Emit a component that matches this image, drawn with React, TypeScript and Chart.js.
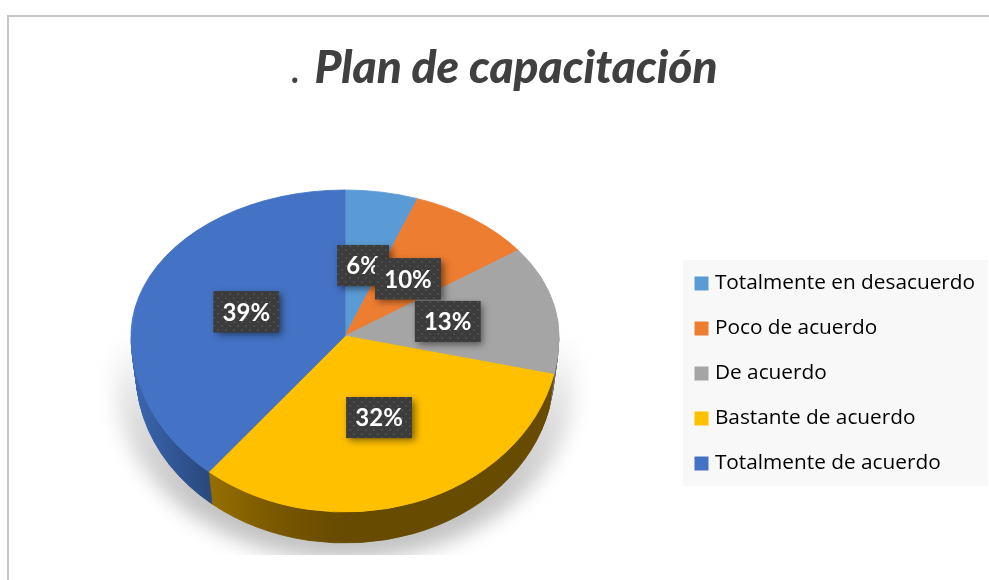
import React, { useEffect, useRef } from "react";
import { Chart, registerables } from "chart.js";

Chart.register(...registerables);

const categories = [
  "Totalmente en desacuerdo",
  "Poco de acuerdo",
  "De acuerdo",
  "Bastante de acuerdo",
  "Totalmente de acuerdo",
];
const values = [5.5, 9.5, 13.49, 32.49, 39.02];
const colors = ["#5b9bd5", "#ed7d31", "#a5a5a5", "#ffc000", "#4472c4"];
const titleText = "Plan de capacitación";

const R = 214;
const CX = 345;
const CY = 336;
const RY_TOP = 146;
const RY_BOTTOM = 176;
const DEPTH_STEPS = 31;

function drawArcs(ctx: any, arcs: any[], override?: (i: number) => any) {
  arcs.forEach((a, i) => {
    if (!override) {
      a.draw(ctx);
      return;
    }
    const saved = a.options;
    const c = override(i);
    a.options = { ...saved, backgroundColor: c, borderColor: c };
    a.draw(ctx);
    a.options = saved;
  });
}

function half(ctx: any, arcs: any[], cy: number, rx: number, ry: number, upper: boolean, override?: (i: number) => any) {
  const a = arcs[0];
  ctx.save();
  ctx.beginPath();
  if (upper) ctx.rect(0, 0, 989, cy);
  else ctx.rect(0, cy, 989, 580 - cy);
  ctx.clip();
  ctx.translate(CX, cy);
  ctx.scale(rx / R, ry / R);
  ctx.translate(-a.x, -a.y);
  drawArcs(ctx, arcs, override);
  ctx.restore();
}

const piePlugin = {
  id: "pie3d",
  beforeDraw(chart: any) {
    const ctx = chart.ctx;
    ctx.save();
    ctx.fillStyle = "#ffffff";
    ctx.fillRect(0, 0, 989, 580);
    ctx.fillStyle = "#c6c6c6";
    ctx.fillRect(7, 15, 982, 2);
    ctx.fillRect(7, 15, 2, 565);
    ctx.fillStyle = "#f8f8f8";
    ctx.fillRect(683, 260, 305, 226);
    ctx.fillStyle = "#404040";
    ctx.font = "44px 'Open Sans'";
    ctx.textBaseline = "alphabetic";
    ctx.fillText(".", 289, 83);
    ctx.restore();
  },
  afterLayout(chart: any) {
    const t = chart.titleBlock;
    t.left = 312;
    t.right = 720;
    t.top = 41;
    const l = chart.legend;
    const pad = l.options.labels.padding;
    l.left = 698.5 - pad;
    l.right = 989;
    l.top = 273 - pad;
    l.bottom = 580;
  },
  beforeDatasetDraw(chart: any) {
    const ctx = chart.ctx;
    const arcs = chart.getDatasetMeta(0).data;
    const a0 = arcs[0];

    // cast shadow on the ground
    ctx.save();
    ctx.beginPath();
    ctx.rect(0, 300, 989, 255);
    ctx.clip();
    ctx.filter = "blur(10px)";
    const sg = ctx.createLinearGradient(0, 335, 0, 500);
    sg.addColorStop(0, "rgba(215,215,215,0)");
    sg.addColorStop(0.5, "rgba(215,215,215,0.85)");
    sg.addColorStop(1, "rgba(195,195,195,1)");
    ctx.fillStyle = sg;
    ctx.beginPath();
    ctx.ellipse(CX, 380, 230, 180, 0, 0, Math.PI * 2);
    ctx.fill();
    ctx.restore();

    // side wall
    const ux = (x: number) => a0.x + (x - CX);
    const yg = ctx.createLinearGradient(ux(199), 0, ux(340), 0);
    yg.addColorStop(0, "#9a7200");
    yg.addColorStop(0.55, "#785700");
    yg.addColorStop(1, "#674b00");
    const bg = ctx.createLinearGradient(ux(136), 0, ux(204), 0);
    bg.addColorStop(0, "#3a64ad");
    bg.addColorStop(1, "#2a4a80");
    const walls: any[] = ["#3f6d98", "#9a5722", "#737373", yg, bg];
    for (let i = DEPTH_STEPS; i >= 1; i--) {
      const t = i / DEPTH_STEPS;
      half(ctx, arcs, CY + 36 * t, R - 5 * t, RY_BOTTOM - 5 * t, false, (k) => walls[k]);
    }

    // top face
    half(ctx, arcs, CY, R, RY_BOTTOM, false);
    half(ctx, arcs, CY, R, RY_TOP, true);
    return false;
  },
  afterDatasetsDraw(chart: any) {
    const ctx = chart.ctx;
    const arcs = chart.getDatasetMeta(0).data;
    const total = values.reduce((s, v) => s + v, 0);

    const tile = document.createElement("canvas");
    tile.width = 8;
    tile.height = 8;
    const tc = tile.getContext("2d") as CanvasRenderingContext2D;
    tc.fillStyle = "#3c3c3c";
    tc.fillRect(0, 0, 8, 8);
    tc.fillStyle = "#4c4c4c";
    tc.fillRect(1, 1, 2, 2);
    tc.fillRect(5, 5, 2, 2);
    const pattern = ctx.createPattern(tile, "repeat");

    ctx.save();
    ctx.font = "700 24px Lato";
    ctx.textAlign = "center";
    ctx.textBaseline = "middle";
    arcs.forEach((a: any, i: number) => {
      const mid = (a.startAngle + a.endAngle) / 2;
      const dx = Math.cos(mid) * R * 0.49;
      const dy = Math.sin(mid) * 0.49 * (Math.sin(mid) < 0 ? RY_TOP : RY_BOTTOM);
      const x = CX + dx;
      const y = CY + dy;
      const text = `${Math.round((values[i] / total) * 100)}%`;
      const w = ctx.measureText(text).width + 18;
      const h = 41;
      ctx.save();
      ctx.shadowColor = "rgba(0,0,0,0.5)";
      ctx.shadowBlur = 7;
      ctx.shadowOffsetX = 3;
      ctx.shadowOffsetY = 3;
      ctx.fillStyle = "#3c3c3c";
      ctx.fillRect(x - w / 2, y - h / 2, w, h);
      ctx.restore();
      ctx.fillStyle = pattern;
      ctx.fillRect(x - w / 2, y - h / 2, w, h);
      ctx.fillStyle = "#ffffff";
      ctx.fillText(text, x, y + 1);
    });
    ctx.restore();
  },
};

export default function App() {
  const ref = useRef<HTMLCanvasElement | null>(null);
  useEffect(() => {
    const chart = new Chart(ref.current as HTMLCanvasElement, {
      type: "pie",
      data: {
        labels: categories,
        datasets: [
          {
            data: values,
            backgroundColor: colors,
            borderColor: colors,
            borderWidth: 1,
            radius: R,
          } as any,
        ],
      },
      options: {
        responsive: false,
        animation: false,
        events: [],
        plugins: {
          tooltip: { enabled: false },
          title: {
            display: true,
            text: titleText,
            align: "center",
            color: "#404040",
            padding: 0,
            font: { family: "Lato", size: 46, weight: "900", style: "italic", lineHeight: 1.2 },
          },
          legend: {
            position: "right",
            align: "start",
            labels: {
              color: "#404040",
              font: { family: "'Open Sans'", size: 20.8 },
              boxWidth: 6,
              boxHeight: 6,
              padding: 24.2,
              generateLabels: () =>
                categories.map((text, i) => ({
                  text,
                  fillStyle: colors[i],
                  strokeStyle: colors[i],
                  lineWidth: 8,
                  hidden: false,
                  index: i,
                })),
            },
          },
        },
      } as any,
      plugins: [piePlugin as any],
    });
    return () => chart.destroy();
  }, []);
  return (
    <div style={{ position: "fixed", left: 0, top: 0, width: 989, height: 580, overflow: "hidden", background: "#fff" }}>
      <canvas ref={ref} width={989} height={580} style={{ display: "block" }} />
    </div>
  );
}
